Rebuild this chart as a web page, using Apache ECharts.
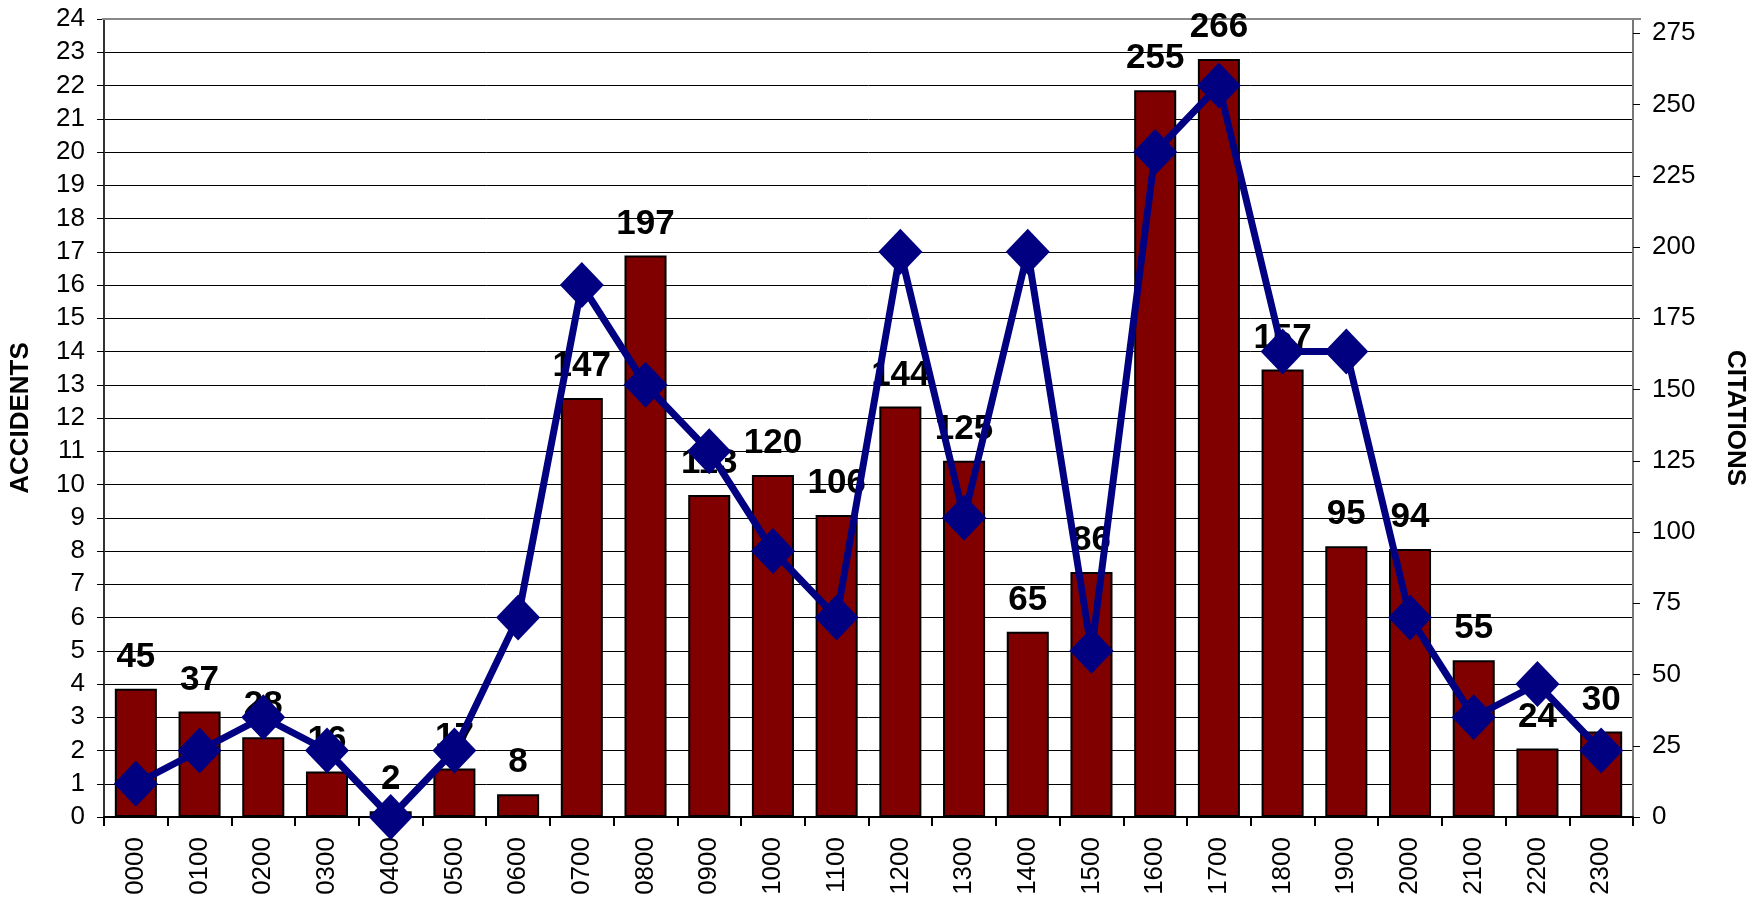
<!DOCTYPE html>
<html>
<head>
<meta charset="utf-8">
<script src="https://cdn.jsdelivr.net/npm/echarts@6/dist/echarts.min.js"></script>
<style>
  html, body { margin: 0; padding: 0; background: #fff; }
  #chart { width: 1756px; height: 898px; }
</style>
</head>
<body>
<div id="chart"></div>
<script>
const hours = ['0000', '0100', '0200', '0300', '0400', '0500', '0600', '0700', '0800', '0900', '1000', '1100',
  '1200', '1300', '1400', '1500', '1600', '1700', '1800', '1900', '2000', '2100', '2200', '2300']
const citations = [45, 37, 28, 16, 2, 17, 8, 147, 197, 113, 120, 106, 144, 125, 65, 86, 255, 266, 157, 95, 94, 55, 24, 30]
const accidents = [1, 2, 3, 2, 0, 2, 6, 16, 13, 11, 8, 6, 17, 9, 17, 5, 20, 22, 14, 14, 6, 3, 4, 2]

const font = 'Liberation Sans, Arial, sans-serif'

const chart = echarts.init(document.getElementById('chart'))

const option = {
  animation: false,
  textStyle: { fontFamily: font },
  grid: { left: 102, right: 115, top: 19, bottom: 81 },
  xAxis: {
    type: 'category',
    data: hours,
    axisLine: { lineStyle: { color: '#000', width: 2 } },
    axisTick: { show: true, length: 9, lineStyle: { color: '#000', width: 2 } },
    axisLabel: { rotate: 90, fontSize: 26, color: '#000', margin: 20, fontFamily: font }
  },
  yAxis: [
    {
      type: 'value',
      name: 'ACCIDENTS',
      nameLocation: 'middle',
      nameGap: 70,
      nameTextStyle: { fontSize: 26, fontWeight: 'bold', color: '#000', fontFamily: font },
      min: 0,
      max: 24,
      interval: 1,
      axisLine: { show: true, lineStyle: { color: '#333', width: 2 } },
      axisTick: { show: true, length: 7, lineStyle: { color: '#000' } },
      axisLabel: { fontSize: 26, color: '#000', margin: 19, fontFamily: font },
      splitLine: { lineStyle: { color: '#000', width: 1 } }
    },
    {
      type: 'value',
      name: 'CITATIONS',
      nameLocation: 'middle',
      nameGap: 89,
      nameRotate: -90,
      nameTextStyle: { fontSize: 26, fontWeight: 'bold', color: '#000', fontFamily: font },
      min: 0,
      max: 280,
      interval: 25,
      axisLine: { show: true, lineStyle: { color: '#777', width: 2 } },
      axisTick: { show: true, length: 7, lineStyle: { color: '#000' } },
      axisLabel: { fontSize: 26, color: '#000', margin: 19, showMaxLabel: false, fontFamily: font },
      splitLine: { show: false }
    }
  ],
  series: [
    {
      name: 'Citations',
      type: 'bar',
      yAxisIndex: 1,
      data: citations,
      barWidth: '66%',
      z: 2,
      itemStyle: { color: '#800000', borderColor: '#000', borderWidth: 2 },
      label: {
        show: true,
        position: 'top',
        distance: 14,
        fontSize: 35,
        fontWeight: 'bold',
        color: '#000',
        fontFamily: font
      }
    },
    {
      name: 'Accidents',
      type: 'line',
      yAxisIndex: 0,
      data: accidents,
      z: 5,
      symbol: 'diamond',
      symbolSize: [44, 46],
      lineStyle: { color: '#000080', width: 7 },
      itemStyle: { color: '#000080' }
    }
  ],
  graphic: [
    { type: 'line', shape: { x1: 102, y1: 19, x2: 1641, y2: 19 }, style: { stroke: '#888', lineWidth: 2 }, z: 1 }
  ]
}

chart.setOption(option)
</script>
</body>
</html>
